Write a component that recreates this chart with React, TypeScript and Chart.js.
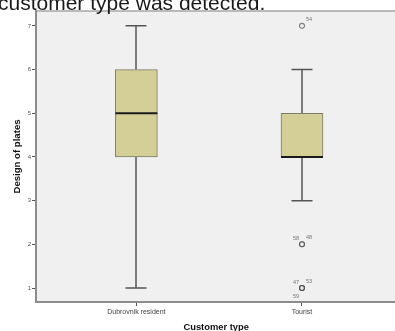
import React, { useEffect, useRef } from 'react';
import { Chart, registerables } from 'chart.js';

Chart.register(...registerables);

const categories = ['Dubrovnik resident', 'Tourist'];
const categoryX = [1, 2];
const whiskerLow = [1, 3];
const q1 = [4, 4];
const median = [5, 4];
const q3 = [6, 5];
const whiskerHigh = [7, 6];
const outlierCategory = [1, 1, 1, 1, 1, 1];
const outlierValues = [7, 2, 2, 1, 1, 1];
const outlierIds = ['54', '58', '48', '47', '53', '59'];
const yTicks = [1, 2, 3, 4, 5, 6, 7];

const FONT = "'Liberation Sans', Arial, sans-serif";
const BOX_W = 42;
const CAP_W = 21;

const boxPlugin = {
  id: 'boxExtras',
  beforeDraw(chart: any) {
    const { ctx, chartArea: a } = chart;
    ctx.save();
    ctx.fillStyle = '#f0f0f0';
    ctx.fillRect(a.left, a.top, a.right - a.left, a.bottom - a.top);
    ctx.strokeStyle = '#a6a6a6';
    ctx.lineWidth = 1.5;
    ctx.beginPath();
    ctx.moveTo(a.left, a.top);
    ctx.lineTo(a.right, a.top);
    ctx.stroke();
    ctx.restore();
  },
  beforeDatasetsDraw(chart: any) {
    const { ctx } = chart;
    const xs = chart.scales.x;
    const ys = chart.scales.y;
    ctx.save();
    ctx.strokeStyle = '#555555';
    ctx.lineWidth = 1.5;
    categoryX.forEach((cx, i) => {
      const px = Math.round(xs.getPixelForValue(cx));
      const lo = ys.getPixelForValue(whiskerLow[i]);
      const hi = ys.getPixelForValue(whiskerHigh[i]);
      const b1 = ys.getPixelForValue(q1[i]);
      const b3 = ys.getPixelForValue(q3[i]);
      ctx.beginPath();
      ctx.moveTo(px, lo);
      ctx.lineTo(px, b1);
      ctx.moveTo(px, b3);
      ctx.lineTo(px, hi);
      ctx.moveTo(px - CAP_W / 2, lo);
      ctx.lineTo(px + CAP_W / 2, lo);
      ctx.moveTo(px - CAP_W / 2, hi);
      ctx.lineTo(px + CAP_W / 2, hi);
      ctx.stroke();
    });
    ctx.restore();
  },
  afterDatasetsDraw(chart: any) {
    const { ctx } = chart;
    const xs = chart.scales.x;
    const ys = chart.scales.y;
    ctx.save();
    ctx.strokeStyle = '#1a1a1a';
    ctx.lineWidth = 2;
    categoryX.forEach((cx, i) => {
      const px = xs.getPixelForValue(cx);
      const m = ys.getPixelForValue(median[i]);
      ctx.beginPath();
      ctx.moveTo(px - BOX_W / 2, m);
      ctx.lineTo(px + BOX_W / 2, m);
      ctx.stroke();
    });
    ctx.font = `5.5px ${FONT}`;
    ctx.fillStyle = '#777777';
    ctx.textBaseline = 'middle';
    const groups: Record<string, number[]> = {};
    outlierValues.forEach((v, i) => {
      const k = outlierCategory[i] + ':' + v;
      (groups[k] = groups[k] || []).push(i);
    });
    Object.values(groups).forEach((idxs) => {
      idxs.forEach((i, j) => {
        const px = xs.getPixelForValue(categoryX[outlierCategory[i]]);
        const py = ys.getPixelForValue(outlierValues[i]);
        let dx = 4, dy = -6, align = 'left';
        if (idxs.length > 1) {
          if (j === 0) { dx = -3; dy = -6; align = 'right'; }
          else if (j === 1) { dx = 4; dy = -7; align = 'left'; }
          else { dx = -3; dy = 8; align = 'right'; }
        }
        ctx.textAlign = align;
        ctx.fillText(outlierIds[i], px + dx, py + dy);
      });
    });
    ctx.restore();
  },
};

export default function App() {
  const ref = useRef<HTMLCanvasElement>(null);
  useEffect(() => {
    if (!ref.current) return;
    const chart = new Chart(ref.current, {
      type: 'bar',
      data: {
        datasets: [
          {
            type: 'bar',
            data: categoryX.map((x, i) => ({ x, y: [q1[i], q3[i]] })) as any,
            backgroundColor: '#d4cf97',
            borderColor: '#7c7b6c',
            borderWidth: 1,
            borderSkipped: false,
            barThickness: BOX_W,
            grouped: false,
          } as any,
          {
            type: 'scatter',
            data: outlierValues.map((v, i) => ({ x: categoryX[outlierCategory[i]], y: v })),
            pointRadius: 2.5,
            pointBorderWidth: 1.1,
            pointBorderColor: 'rgba(80,80,80,0.7)',
            pointBackgroundColor: 'rgba(0,0,0,0)',
            pointHoverRadius: 2.5,
          } as any,
        ],
      },
      plugins: [boxPlugin],
      options: {
        responsive: false,
        animation: false,
        events: [],
        layout: { padding: { top: 11, left: 0, right: 0, bottom: 0 } },
        plugins: { legend: { display: false }, tooltip: { enabled: false } },
        scales: {
          x: {
            type: 'linear',
            min: 0.394,
            max: 2.57,
            offset: false,
            afterBuildTicks: (s: any) => { s.ticks = categoryX.map((v) => ({ value: v })); },
            afterFit: (s: any) => { s.height = 29; s.paddingLeft = 0; s.paddingRight = 0; },
            ticks: {
              callback: (v: any) => categories[categoryX.indexOf(Number(v))] ?? '',
              font: { family: FONT, size: 7 },
              color: '#444444',
              padding: 2,
              maxRotation: 0,
              autoSkip: false,
            },
            grid: { offset: false, drawOnChartArea: false, drawTicks: true, tickLength: 4, color: '#555555', tickWidth: 1 },
            border: { display: true, color: '#8c8c8c', width: 2 },
            title: {
              display: true,
              text: 'Customer type',
              font: { family: FONT, size: 9.4, weight: 'bold', lineHeight: 1 },
              color: '#111111',
              padding: { top: 0, bottom: -1.5 },
            },
          } as any,
          y: {
            type: 'linear',
            min: 0.68,
            max: 7.34,
            afterBuildTicks: (s: any) => { s.ticks = yTicks.map((v) => ({ value: v })); },
            afterFit: (s: any) => { s.width = 36; },
            ticks: {
              font: { family: FONT, size: 6 },
              color: '#555555',
              padding: 1,
            },
            grid: { drawOnChartArea: false, drawTicks: true, tickLength: 4, color: '#555555', tickWidth: 1 },
            border: { display: true, color: '#8c8c8c', width: 2 },
            title: {
              display: true,
              text: 'Design of plates',
              font: { family: FONT, size: 9.6, weight: 'bold', lineHeight: 1.2 },
              color: '#111111',
              padding: { top: 11.2, bottom: 0 },
            },
          } as any,
        },
      },
    });
    return () => chart.destroy();
  }, []);
  return (
    <div style={{ position: 'fixed', left: 0, top: 0, width: 395, height: 331, overflow: 'hidden', background: '#ffffff' }}>
      <canvas ref={ref} width={400} height={331} style={{ position: 'absolute', left: 0, top: 0, width: 400, height: 331 }} />
      <div style={{ position: 'absolute', left: -2, top: -8.5, fontFamily: FONT, fontSize: 21, lineHeight: '21px', color: '#1a1a1a', whiteSpace: 'nowrap' }}>
        customer type was detected.
      </div>
    </div>
  );
}
